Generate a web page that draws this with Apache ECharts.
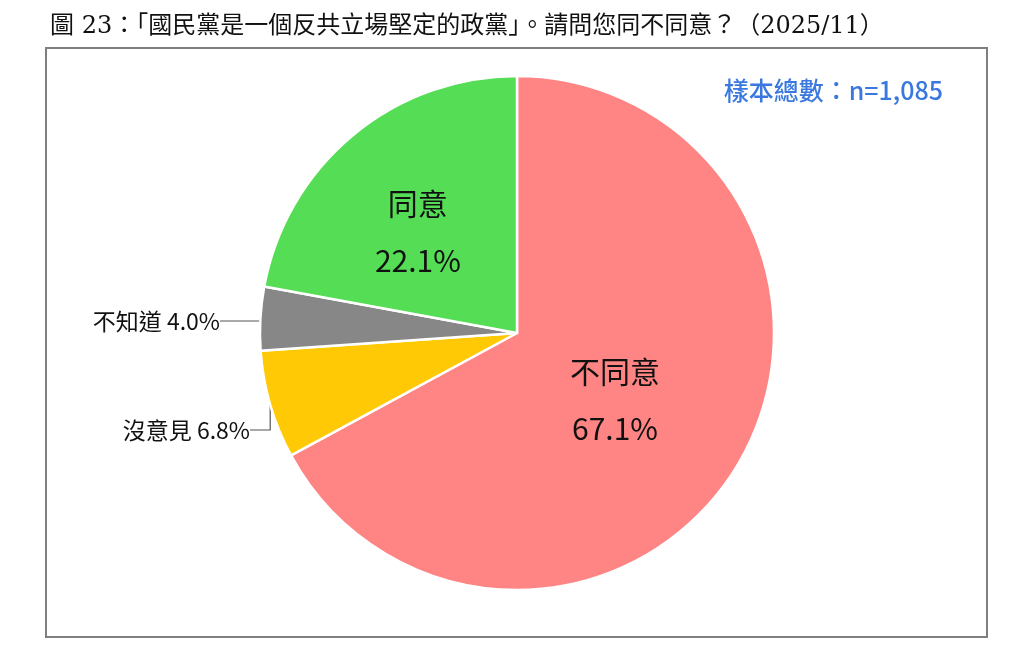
<!DOCTYPE html>
<html lang="zh-Hant">
<head>
    <meta charset="UTF-8">
    <title>圖 23</title>
    <script src="https://cdn.jsdelivr.net/npm/echarts@6/dist/echarts.min.js"></script>
    <style>
        html, body { margin: 0; padding: 0; background: #fff; }
        #main { width: 1023px; height: 659px; }
    </style>
</head>
<body>
    <div id="main"></div>
    <script>
        // 資料
        var names = ['不同意', '沒意見', '不知道', '同意'];
        var values = [67.1, 6.8, 4.0, 22.1];
        var colors = ['#FF8585', '#FFCA05', '#878787', '#55DD55'];
        var insideLabel = [true, false, false, true];

        var titleText = '圖 23：「國民黨是一個反共立場堅定的政黨」。請問您同不同意？（2025/11）';
        var sampleText = '樣本總數：n=1,085';

        var pieData = [];
        for (var i = 0; i < names.length; i++) {
            var item = {
                name: names[i],
                value: values[i],
                itemStyle: { color: colors[i] }
            };
            if (insideLabel[i]) {
                item.label = {
                    position: 'inside',
                    formatter: function (p) {
                        return p.name + '\n' + p.value.toFixed(1) + '%';
                    },
                    fontSize: 30,
                    fontWeight: 'normal',
                    lineHeight: 57,
                    padding: [0, 30, 22, 0],
                    color: '#111'
                };
                item.labelLine = { show: false };
            }
            pieData.push(item);
        }

        var myChart = echarts.init(document.getElementById('main'));
        var option = {
            title: {
                text: titleText,
                left: 45,
                top: 10,
                textStyle: {
                    fontFamily: '"DejaVu Serif", "Noto Sans CJK TC", serif',
                    fontSize: 24,
                    fontWeight: 'normal',
                    color: '#111'
                }
            },
            graphic: [{
                type: 'rect',
                shape: { x: 46, y: 48, width: 941, height: 589 },
                style: { fill: 'none', stroke: '#7f7f7f', lineWidth: 2 },
                silent: true
            }, {
                type: 'text',
                right: 80,
                top: 78,
                style: {
                    text: sampleText,
                    fill: '#3A78E0',
                    font: '500 25px "Noto Sans CJK TC", sans-serif'
                }
            }],
            series: [{
                type: 'pie',
                center: [517, 333],
                radius: 257,
                startAngle: 90,
                clockwise: true,
                avoidLabelOverlap: false,
                data: pieData,
                itemStyle: {
                    borderColor: '#fff',
                    borderWidth: 2.5
                },
                label: {
                    position: 'outside',
                    formatter: function (p) {
                        return p.name + ' ' + p.value.toFixed(1) + '%';
                    },
                    fontFamily: '"Noto Sans CJK TC", sans-serif',
                    fontSize: 23,
                    fontWeight: 'normal',
                    color: '#111'
                },
                labelLine: {
                    show: true,
                    length: 8,
                    length2: 40,
                    lineStyle: { color: '#555', width: 1.2 }
                },
                labelLayout: function (p) {
                    if (p.dataIndex === 1) {
                        return { x: 250, y: 430, align: 'right', verticalAlign: 'middle' };
                    }
                    if (p.dataIndex === 2) {
                        return { x: 220, y: 321, align: 'right', verticalAlign: 'middle' };
                    }
                    return {};
                },
                emphasis: { disabled: true }
            }]
        };
        myChart.setOption(option);
    </script>
</body>
</html>
